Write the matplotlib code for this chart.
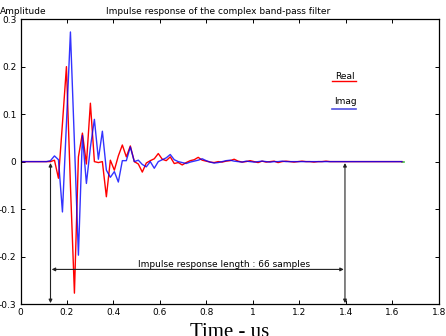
import numpy as np
import matplotlib
matplotlib.use('Agg')
import matplotlib.pyplot as plt

# sample period (us) and sample values
dt = 0.01718
t0 = 0.0086

real = [0, 0, 0, 0, 0, 0, 0, 0, 0.003, -0.035,
        0.08, 0.200, -0.05, -0.277, 0.01, 0.06, -0.005, 0.123, 0.0, -0.002,
        0.0, -0.074, 0.003, -0.018, 0.012, 0.035, 0.01, 0.033, 0.0, -0.005,
        -0.022, -0.003, 0.002, 0.006, 0.017, 0.005, 0.002, 0.01, -0.004, -0.002,
        -0.007, -0.002, 0.002, 0.004, 0.009, 0.003, 0.001, -0.001, -0.002, 0.0,
        -0.001, 0.001, 0.002, 0.005, 0.001, -0.001, 0.0, 0.002, 0.0, -0.002,
        0.001, -0.001, 0.0, 0.001, -0.002, 0.0, 0.001, 0.0, -0.001, 0.0,
        0.001, 0.0, 0.0, -0.001, 0.0, 0.0, 0.001, 0.0, 0.0, 0.0,
        0, 0, 0, 0, 0, 0, 0, 0, 0, 0,
        0, 0, 0, 0, 0, 0]

imag = [0, 0, 0, 0, 0, 0, 0, 0.002, 0.012, 0.004,
        -0.106, 0.08, 0.273, 0.04, -0.197, 0.055, -0.046, 0.03, 0.089, 0.005,
        0.064, -0.018, -0.033, -0.021, -0.043, 0.002, 0.002, 0.031, 0.0, 0.003,
        -0.006, -0.011, 0.0, -0.014, 0.0, 0.004, 0.008, 0.015, 0.004, 0.0,
        -0.002, -0.004, -0.001, 0.001, 0.003, 0.006, 0.002, -0.001, -0.003, -0.002,
        0.0, 0.002, 0.003, 0.001, 0.0, -0.001, 0.001, 0.0, -0.001, 0.0,
        0.001, 0.0, -0.001, 0.0, 0.0, 0.001, 0.0, 0.0, 0.0, 0.0,
        0, 0, 0, 0, 0, 0, 0, 0, 0, 0,
        0, 0, 0, 0, 0, 0, 0, 0, 0, 0,
        0, 0, 0, 0, 0, 0]

t = t0 + np.arange(len(real)) * dt

ir_start = 0.129
ir_end = 1.396
ir_label = 'Impulse response length : 66 samples'

xticks = [0, 0.2, 0.4, 0.6, 0.8, 1, 1.2, 1.4, 1.6, 1.8]
xticklabels = ['0', '0.2', '0.4', '0.6', '0.8', '1', '1.2', '1.4', '1.6', '1.8']
yticks = [-0.3, -0.2, -0.1, 0, 0.1, 0.2, 0.3]
yticklabels = ['-0.3', '-0.2', '-0.1', '0', '0.1', '0.2', '0.3']

fig = plt.figure(figsize=(4.46, 3.36), dpi=100)
ax = fig.add_axes([0.046, 0.095, 0.938, 0.848])

# little green stub sticking out at the end of the traces
ax.plot([t[-1], t[-1] + 0.008], [0, 0], color='#40c040', lw=1.2)
ax.plot(t, real, color='red', lw=1)
ax.plot(t, imag, color='blue', lw=1, alpha=0.8)

# hand-drawn legend: label above a short line
ax.text(1.398, 0.18, 'Real', fontsize=6.5, ha='center', va='center')
ax.plot([1.341, 1.444], [0.170, 0.170], color='red', lw=1)
ax.text(1.398, 0.126, 'Imag', fontsize=6.5, ha='center', va='center')
ax.plot([1.341, 1.444], [0.1105, 0.1105], color='#5050e0', lw=1.2)

# impulse length annotation
arr = dict(arrowstyle='<|-|>', color='#222222', lw=0.8, mutation_scale=5,
           shrinkA=0, shrinkB=0)
ax.annotate('', xy=(ir_start, -0.003), xytext=(ir_start, -0.298), arrowprops=arr)
ax.annotate('', xy=(ir_end, -0.003), xytext=(ir_end, -0.298), arrowprops=arr)
ax.annotate('', xy=(ir_start + 0.005, -0.227), xytext=(ir_end - 0.005, -0.227),
            arrowprops=arr)
ax.text(0.875, -0.216, ir_label, fontsize=6.5, ha='center', va='center')

ax.set_xlim(0, 1.8)
ax.set_ylim(-0.3, 0.3)
ax.set_xticks(xticks)
ax.set_xticklabels(xticklabels)
ax.set_yticks(yticks)
ax.set_yticklabels(yticklabels)
ax.tick_params(direction='in', top=True, right=True, labelsize=6.5,
               length=3, width=0.7, pad=3)
for s in ax.spines.values():
    s.set_linewidth(0.9)

ax.set_xlabel('Time - us', family='Liberation Serif', fontsize=15, labelpad=4)
fig.text(0.0, 1 - 12 / 336, 'Amplitude', fontsize=6.5, ha='left', va='center')
fig.text(218 / 446, 1 - 12 / 336, 'Impulse response of the complex band-pass filter',
         fontsize=6.5, ha='center', va='center')

fig.savefig('out.png', dpi=100)
